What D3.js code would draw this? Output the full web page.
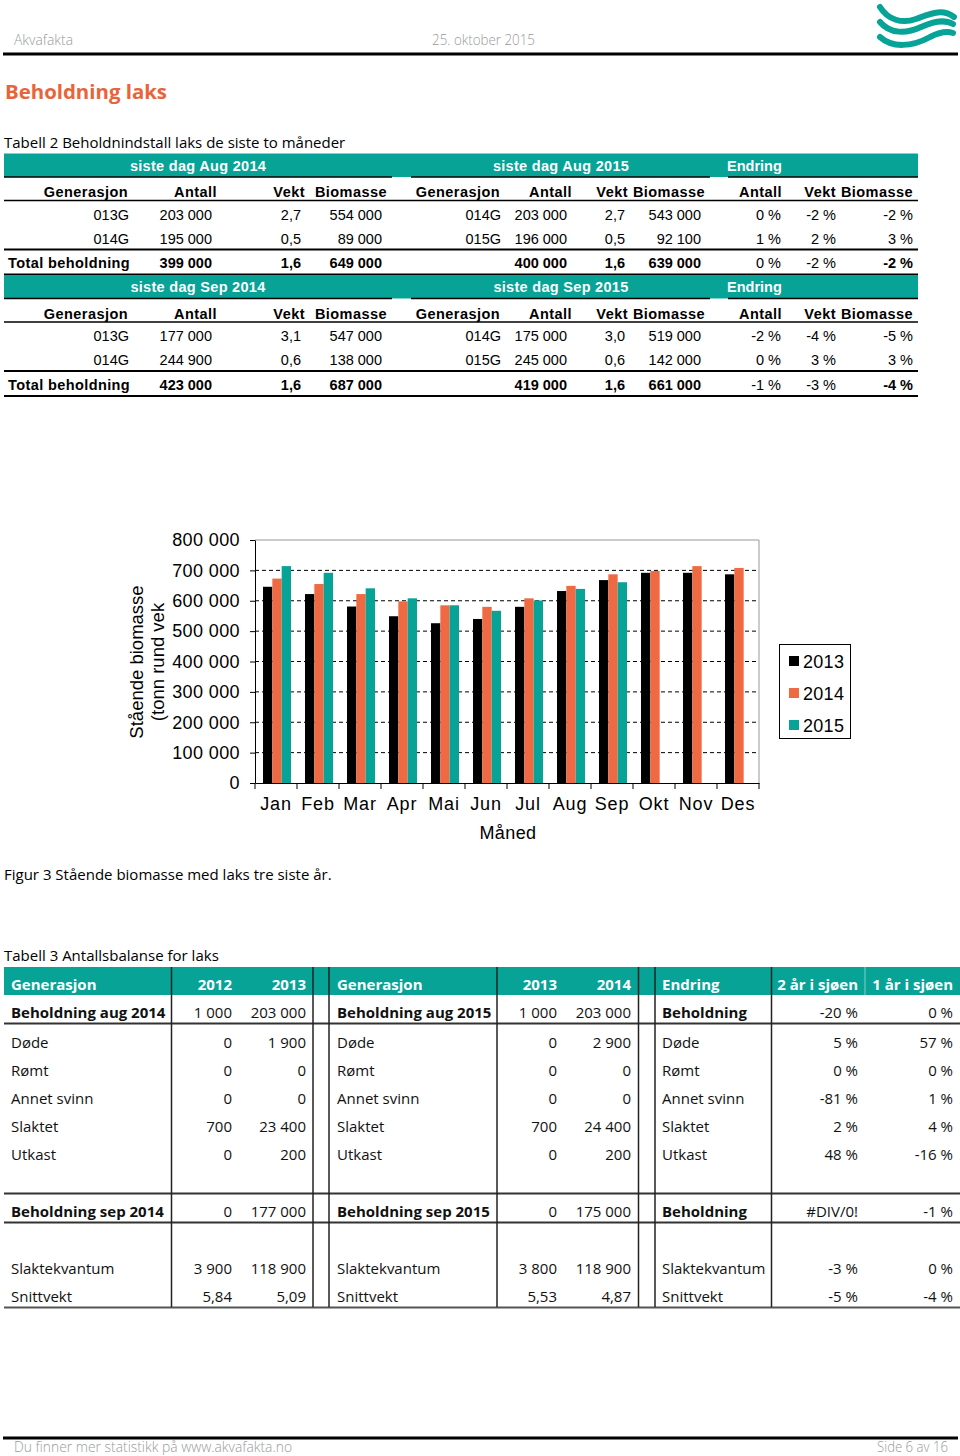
<!DOCTYPE html>
<html>
<head>
<meta charset="utf-8">
<script src="https://cdn.jsdelivr.net/npm/d3@7"></script>
<style>
  body { margin: 0; background: #fff; }
  svg { display: block; }
</style>
</head>
<body>
<div id="page"></div>
<script>
// ---- data ----
var months = ['Jan', 'Feb', 'Mar', 'Apr', 'Mai', 'Jun', 'Jul', 'Aug', 'Sep', 'Okt', 'Nov', 'Des']
var years = ['2013', '2014', '2015']
var bio2013 = [646000, 622000, 581000, 549000, 526000, 540000, 580000, 632000, 668000, 692000, 692000, 687000]
var bio2014 = [673000, 655000, 622000, 598000, 585000, 580000, 608000, 649000, 687000, 698000, 714000, 708000]
var bio2015 = [714000, 692000, 641000, 608000, 585000, 567000, 601000, 639000, 661000, null, null, null]
var yTicks = [0, 100000, 200000, 300000, 400000, 500000, 600000, 700000, 800000]

var t2Head = ['Generasjon', 'Antall', 'Vekt', 'Biomasse', 'Generasjon', 'Antall', 'Vekt', 'Biomasse', 'Antall', 'Vekt', 'Biomasse']
var t2PeriodsAug = ['siste dag Aug 2014', 'siste dag Aug 2015', 'Endring']
var t2RowsAug = [
  ['013G', '203 000', '2,7', '554 000', '014G', '203 000', '2,7', '543 000', '0 %', '-2 %', '-2 %'],
  ['014G', '195 000', '0,5', '89 000', '015G', '196 000', '0,5', '92 100', '1 %', '2 %', '3 %']
]
var t2TotalAug = ['Total beholdning', '399 000', '1,6', '649 000', '', '400 000', '1,6', '639 000', '0 %', '-2 %', '-2 %']
var t2PeriodsSep = ['siste dag Sep 2014', 'siste dag Sep 2015', 'Endring']
var t2RowsSep = [
  ['013G', '177 000', '3,1', '547 000', '014G', '175 000', '3,0', '519 000', '-2 %', '-4 %', '-5 %'],
  ['014G', '244 900', '0,6', '138 000', '015G', '245 000', '0,6', '142 000', '0 %', '3 %', '3 %']
]
var t2TotalSep = ['Total beholdning', '423 000', '1,6', '687 000', '', '419 000', '1,6', '661 000', '-1 %', '-3 %', '-4 %']

var t3Head = ['Generasjon', '2012', '2013', 'Generasjon', '2013', '2014', 'Endring', '2 år i sjøen', '1 år i sjøen']
var t3Label1 = ['Beholdning aug 2014', 'Døde', 'Rømt', 'Annet svinn', 'Slaktet', 'Utkast', 'Beholdning sep 2014', 'Slaktekvantum', 'Snittvekt']
var t3Y2012 = ['1 000', '0', '0', '0', '700', '0', '0', '3 900', '5,84']
var t3Y2013 = ['203 000', '1 900', '0', '0', '23 400', '200', '177 000', '118 900', '5,09']
var t3Label2 = ['Beholdning aug 2015', 'Døde', 'Rømt', 'Annet svinn', 'Slaktet', 'Utkast', 'Beholdning sep 2015', 'Slaktekvantum', 'Snittvekt']
var t3Y2013b = ['1 000', '0', '0', '0', '700', '0', '0', '3 800', '5,53']
var t3Y2014 = ['203 000', '2 900', '0', '0', '24 400', '200', '175 000', '118 900', '4,87']
var t3Label3 = ['Beholdning', 'Døde', 'Rømt', 'Annet svinn', 'Slaktet', 'Utkast', 'Beholdning', 'Slaktekvantum', 'Snittvekt']
var t3Sea2 = ['-20 %', '5 %', '0 %', '-81 %', '2 %', '48 %', '#DIV/0!', '-3 %', '-5 %']
var t3Sea1 = ['0 %', '57 %', '0 %', '1 %', '4 %', '-16 %', '-1 %', '0 %', '-4 %']

// ---- layout ----
var teal = '#06a396', orange = '#ef6a43', titleOrange = '#e8643a'
var arial = '"Liberation Sans", Arial, sans-serif'
var opensans = '"Open Sans", "Noto Sans", sans-serif'

var svg = d3.select('#page').append('svg')
  .attr('width', 960).attr('height', 1456)

function txt(x, y, s, opt) {
  opt = opt || {}
  var t = svg.append('text')
    .attr('x', x).attr('y', y)
    .attr('text-anchor', opt.anchor || 'start')
    .attr('font-family', opt.font || opensans)
    .attr('font-size', opt.size || 15)
    .attr('font-weight', opt.bold ? 'bold' : (opt.weight || 'normal'))
    .attr('letter-spacing', opt.ls || 0)
    .attr('fill', opt.fill || '#000')
    .text(s)
  if (opt.len) t.attr('textLength', opt.len).attr('lengthAdjust', 'spacingAndGlyphs')
  return t
}
function hline(x1, x2, yy, w, c) {
  svg.append('line').attr('x1', x1).attr('x2', x2).attr('y1', yy).attr('y2', yy)
    .attr('stroke', c || '#000').attr('stroke-width', w || 1)
}

// page header
txt(14, 45, 'Akvafakta', {size: 14, weight: 300, fill: '#9a9a9a', len: 59})
txt(432, 45, '25. oktober 2015', {size: 14, weight: 300, fill: '#9a9a9a', len: 103})
hline(3, 958, 54, 3)
var logo = svg.append('g').attr('fill', 'none').attr('stroke', teal).attr('stroke-linecap', 'round')
logo.append('path').attr('stroke-width', 6).attr('d', 'M880,7 C888,20 902,24 916,19 C930,14 942,8 954,17')
logo.append('path').attr('stroke-width', 6).attr('d', 'M880,22 C890,34 906,34 921,27 C934,21 944,19 953,24')
logo.append('path').attr('stroke-width', 6).attr('d', 'M880,37 C892,48 912,47 930,37 C940,32 947,31 953,33')

txt(5, 99, 'Beholdning laks', {size: 20, bold: true, fill: titleOrange, len: 162})

// ---- Tabell 2 ----
txt(4, 148, 'Tabell 2 Beholdnindstall laks de siste to måneder', {size: 15})

var t2HeadX = [128, 217, 305, 387, 500, 572, 628, 705, 782, 836, 913]
var t2ValX = [129, 212, 301, 382, 501, 567, 625, 701, 781, 836, 913]

function drawBlock(T, periods, rows, total) {
  svg.append('rect').attr('x', 4).attr('y', T).attr('width', 914).attr('height', 23.5).attr('fill', teal)
  txt(198, T + 17, periods[0], {font: arial, size: 14.5, bold: true, fill: '#fff', ls: 0.3, anchor: 'middle'})
  txt(561, T + 17, periods[1], {font: arial, size: 14.5, bold: true, fill: '#fff', ls: 0.3, anchor: 'middle'})
  txt(727, T + 17, periods[2], {font: arial, size: 14.5, bold: true, fill: '#fff'})
  hline(4, 392, T + 23.5, 1.5)
  hline(411, 710, T + 23.5, 1.5)
  hline(728, 918, T + 23.5, 1.5)

  t2Head.forEach(function(h, i) {
    txt(t2HeadX[i], T + 43.5, h, {font: arial, size: 14.5, bold: true, ls: 0.45, anchor: 'end'})
  })
  hline(4, 918, T + 47, 1.5)

  rows.forEach(function(r, k) {
    r.forEach(function(v, i) {
      txt(t2ValX[i], T + 66 + k * 24, v, {font: arial, size: 14.5, anchor: 'end'})
    })
  })
  hline(4, 918, T + 96, 2)
  total.forEach(function(v, i) {
    if (i === 0) txt(8, T + 114.5, v, {font: arial, size: 14.5, bold: true, ls: 0.4})
    else txt(t2ValX[i], T + 114.5, v, {font: arial, size: 14.5, bold: (i !== 8 && i !== 9), anchor: 'end'})
  })
  hline(4, 918, T + 121, 2)
}
drawBlock(153.5, t2PeriodsAug, t2RowsAug, t2TotalAug)
drawBlock(275, t2PeriodsSep, t2RowsSep, t2TotalSep)

// ---- Figur 3 (bar chart) ----
var fmt = d3.formatLocale({decimal: ',', thousands: ' ', grouping: [3], currency: ['', '']}).format(',d')
var x = d3.scaleBand().domain(months).range([255, 759]).padding(0)
var xs = d3.scaleBand().domain(years).range([8, 36])
var y = d3.scaleLinear().domain([0, 800000]).range([783, 540])
var series = [bio2013, bio2014, bio2015]
var colors = ['#000', orange, teal]

var chart = svg.append('g')

chart.selectAll('.grid')
  .data(yTicks.slice(1, -1))
  .enter().append('line')
  .attr('class', 'grid')
  .attr('x1', 255).attr('x2', 759)
  .attr('y1', d => y(d)).attr('y2', d => y(d))
  .attr('stroke', '#000').attr('stroke-dasharray', '4,3')

chart.append('line').attr('x1', 255).attr('x2', 759).attr('y1', y(800000)).attr('y2', y(800000)).attr('stroke', '#999')
chart.append('line').attr('x1', 759).attr('x2', 759).attr('y1', y(800000)).attr('y2', y(0)).attr('stroke', '#999')

series.forEach(function(vals, j) {
  chart.selectAll('.bar' + j)
    .data(months.map((m, i) => ({m: m, v: vals[i]})).filter(d => d.v != null))
    .enter().append('rect')
    .attr('class', 'bar' + j)
    .attr('x', d => x(d.m) + xs(years[j]))
    .attr('width', xs.bandwidth())
    .attr('y', d => y(d.v))
    .attr('height', d => y(0) - y(d.v))
    .attr('fill', colors[j])
})

var yAxis = chart.append('g')
  .attr('transform', 'translate(255,0)')
  .call(d3.axisLeft(y).tickValues(yTicks).tickFormat(fmt).tickSizeInner(5).tickSizeOuter(0).tickPadding(10))
yAxis.selectAll('text').attr('font-family', arial).attr('font-size', 18).attr('letter-spacing', 0.4).attr('fill', '#000')
yAxis.selectAll('line, path').attr('stroke', '#000')

var xAxis = chart.append('g')
  .attr('transform', 'translate(0,783)')
  .call(d3.axisBottom(x).tickSize(0).tickPadding(14))
xAxis.selectAll('text').attr('font-family', arial).attr('font-size', 18).attr('letter-spacing', 0.8).attr('fill', '#000')
xAxis.select('.domain').attr('stroke', '#000')

chart.selectAll('.xtick')
  .data(months.map(m => x(m)).concat([x.range()[1]]))
  .enter().append('line')
  .attr('class', 'xtick')
  .attr('x1', d => d).attr('x2', d => d)
  .attr('y1', 783).attr('y2', 789)
  .attr('stroke', '#000')

txt(508, 839, 'Måned', {font: arial, size: 18, anchor: 'middle', ls: 0.4})

var ylab = svg.append('g').attr('transform', 'translate(0,662) rotate(-90)')
ylab.append('text').attr('x', 0).attr('y', 143).attr('text-anchor', 'middle')
  .attr('font-family', arial).attr('font-size', 18.5).text('Stående biomasse')
ylab.append('text').attr('x', 0).attr('y', 164).attr('text-anchor', 'middle')
  .attr('font-family', arial).attr('font-size', 18.5).text('(tonn rund vek')

var legend = svg.append('g')
legend.append('rect').attr('x', 779.5).attr('y', 644.5).attr('width', 71).attr('height', 94)
  .attr('fill', '#fff').attr('stroke', '#000')
var li = legend.selectAll('.legend')
  .data(years)
  .enter().append('g')
  .attr('class', 'legend')
  .attr('transform', (d, i) => 'translate(789,' + (661 + i * 32) + ')')
li.append('rect').attr('x', 0).attr('y', -5).attr('width', 10).attr('height', 10).attr('fill', (d, i) => colors[i])
li.append('text').attr('x', 14).attr('y', 6.5).attr('font-family', arial).attr('font-size', 18).attr('letter-spacing', 0.3).text(d => d)

txt(4, 880, 'Figur 3 Stående biomasse med laks tre siste år.', {size: 15})

// ---- Tabell 3 ----
txt(4, 961, 'Tabell 3 Antallsbalanse for laks', {size: 15})
svg.append('rect').attr('x', 4).attr('y', 967).attr('width', 956).attr('height', 28).attr('fill', teal)

var t3HeadX = [11, 232, 306, 337, 557, 631, 662, 858, 953]
var t3Anchor = ['start', 'end', 'end', 'start', 'end', 'end', 'start', 'end', 'end']
t3Head.forEach(function(h, i) {
  txt(t3HeadX[i], 990, h, {size: 15, bold: true, fill: '#fff', anchor: t3Anchor[i]})
})

var rowY = [1018, 1047.5, 1075.5, 1103.5, 1131.5, 1159.5, 1217, 1273.5, 1302]
var cols = [t3Label1, t3Y2012, t3Y2013, t3Label2, t3Y2013b, t3Y2014, t3Label3, t3Sea2, t3Sea1]
cols.forEach(function(col, i) {
  col.forEach(function(v, k) {
    var isLabel = (i === 0 || i === 3 || i === 6)
    txt(t3HeadX[i], rowY[k], v, {size: 15, anchor: t3Anchor[i], bold: isLabel && (k === 0 || k === 6), fill: '#111'})
  })
})

hline(4, 960, 1023.5, 2, '#333')
hline(4, 960, 1193.5, 2, '#333')
hline(4, 960, 1222.5, 2, '#333')
hline(4, 960, 1307.5, 2, '#555')

;[171.5, 313, 329, 497, 638.5, 655, 771.5].forEach(function(vx) {
  svg.append('line').attr('x1', vx).attr('x2', vx).attr('y1', 967).attr('y2', 1307)
    .attr('stroke', '#222').attr('stroke-width', 1.5)
})
svg.append('line').attr('x1', 865).attr('x2', 865).attr('y1', 967).attr('y2', 995)
  .attr('stroke', '#7fd0c8').attr('stroke-width', 1)

// page footer
hline(3, 958, 1438, 3)
txt(14, 1452, 'Du finner mer statistikk på www.akvafakta.no', {size: 14, weight: 300, fill: '#9a9a9a', len: 278})
txt(948, 1452, 'Side 6 av 16', {size: 14, weight: 300, fill: '#9a9a9a', anchor: 'end', len: 71})
</script>
</body>
</html>
